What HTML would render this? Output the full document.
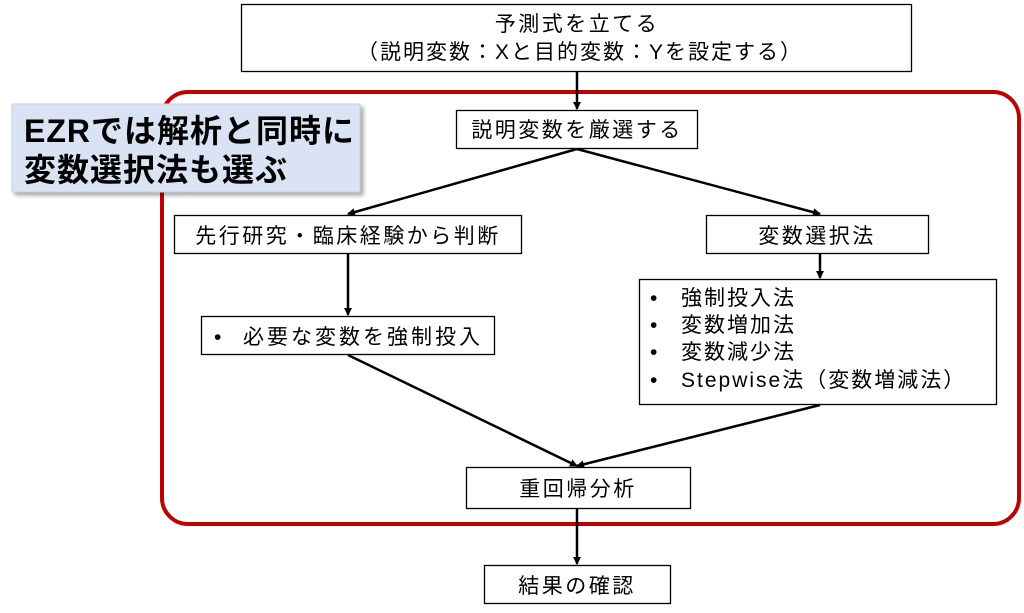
<!DOCTYPE html>
<html><head><meta charset="utf-8"><style>
html,body{margin:0;padding:0;background:#fff;}
svg{display:block}
text{font-family:"Liberation Sans","Noto Sans CJK JP",sans-serif;font-size:21px;fill:#000;}
.b{font-weight:bold;font-size:32px;}
</style></head><body>
<svg width="1024" height="613" viewBox="0 0 1024 613">
<defs>
<marker id="a" markerWidth="8" markerHeight="8" refX="7" refY="4" orient="auto" markerUnits="userSpaceOnUse" viewBox="0 0 8 8"><path d="M0,0 L8,4 L0,8 z" fill="#000"/></marker>
<filter id="s" x="-5%" y="-5%" width="115%" height="120%"><feDropShadow dx="3" dy="3" stdDeviation="2" flood-color="#000" flood-opacity="0.35"/></filter>
</defs>
<rect x="162" y="92" width="857" height="432" rx="26" fill="none" stroke="#c00000" stroke-width="4"/>
<g stroke="#000" stroke-width="1.3" fill="#fff">
<rect x="241.5" y="4.5" width="670" height="67"/>
<rect x="456.5" y="110.5" width="241" height="38"/>
<rect x="174.5" y="215.5" width="347" height="38"/>
<rect x="706.5" y="215.5" width="222" height="38"/>
<rect x="201.5" y="316.5" width="293" height="38"/>
<rect x="639.5" y="279.5" width="357" height="125"/>
<rect x="466.5" y="467.5" width="224" height="41"/>
<rect x="484.5" y="565.5" width="186" height="38"/>
</g>
<g stroke="#000" stroke-width="2.5" fill="none" marker-end="url(#a)">
<line x1="577" y1="72" x2="577" y2="109"/>
<line x1="577" y1="149" x2="348" y2="214"/>
<line x1="577" y1="149" x2="820" y2="214"/>
<line x1="348" y1="254" x2="348" y2="315"/>
<line x1="820" y1="254" x2="820" y2="278"/>
<line x1="348" y1="355" x2="577" y2="466"/>
<line x1="820" y1="405" x2="577" y2="466"/>
<line x1="577" y1="509" x2="577" y2="564"/>
</g>
<rect x="12" y="104" width="348" height="88" fill="#dae3f3" stroke="#c8d2e2" stroke-width="1" filter="url(#s)"/>
<text class="b" x="24" y="142" letter-spacing="1">EZRでは解析と同時に</text>
<text class="b" x="24" y="181" letter-spacing="1">変数選択法も選ぶ</text>
<g text-anchor="middle">
<text x="577" y="31" letter-spacing="2.5">予測式を立てる</text>
<text x="580" y="59" letter-spacing="2">（説明変数：Xと目的変数：Yを設定する）</text>
<text x="577" y="137" letter-spacing="2.5">説明変数を厳選する</text>
<text x="348" y="243" letter-spacing="2.5">先行研究・臨床経験から判断</text>
<text x="817" y="243" letter-spacing="2.5">変数選択法</text>
<text x="578" y="496" letter-spacing="2.5">重回帰分析</text>
<text x="577" y="593" letter-spacing="2.5">結果の確認</text>
</g>
<text x="214" y="344">•</text>
<text x="243" y="344" letter-spacing="3">必要な変数を強制投入</text>
<text x="650" y="305">•</text><text x="681" y="305" letter-spacing="2">強制投入法</text>
<text x="650" y="332">•</text><text x="681" y="332" letter-spacing="2">変数増加法</text>
<text x="650" y="359">•</text><text x="681" y="359" letter-spacing="2">変数減少法</text>
<text x="650" y="387">•</text><text x="681" y="387" letter-spacing="2">Stepwise法（変数増減法）</text>
</svg>
</body></html>
